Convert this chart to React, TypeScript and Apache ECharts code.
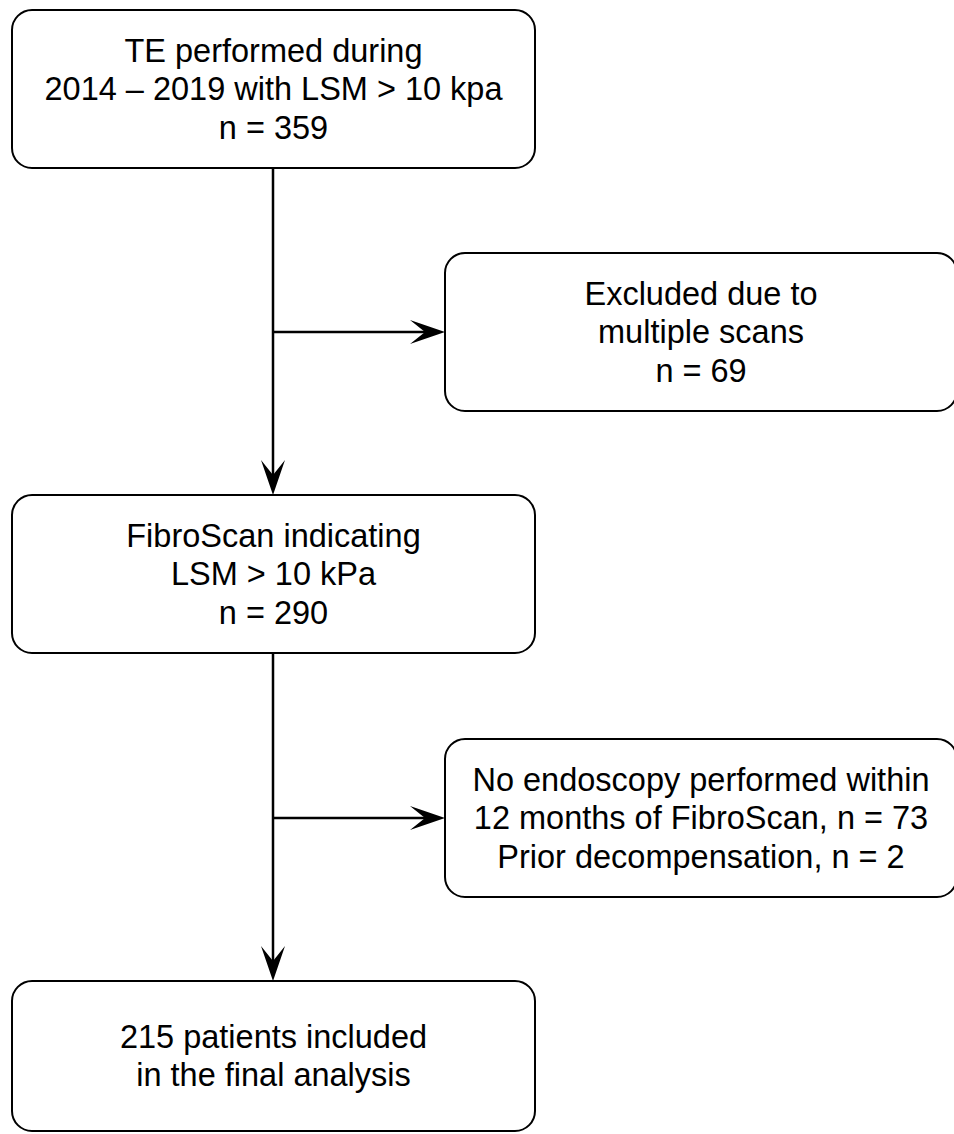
import { useEffect, useRef } from "react";
import * as echarts from "echarts";

// flowchart content
const mainBoxes = [
  ["TE performed during", "2014 – 2019 with LSM > 10 kpa", "n = 359"],
  ["FibroScan indicating", "LSM > 10 kPa", "n = 290"],
  ["215 patients included", "in the final analysis"],
];
const sideBoxes = [
  ["Excluded due to", "multiple scans", "n = 69"],
  ["No endoscopy performed within", "12 months of FibroScan, n = 73", "Prior decompensation, n = 2"],
];

const MAIN_TOP = [10, 495, 981];
const SIDE_TOP = [253, 739];
const BOX_H = 158;
const LINE_H = 38.5;
const STROKE = "#000";

export default function App() {
  const chartRef = useRef<HTMLDivElement>(null);

  useEffect(() => {
    if (!chartRef.current) return;
    const chart = echarts.init(chartRef.current, null, { renderer: "svg" });
    const els: any[] = [];

    const box = (x: number, y: number, w: number, h: number, lines: string[]) => {
      els.push({
        type: "rect",
        shape: { x, y, width: w, height: h, r: 20 },
        style: { fill: "#fff", stroke: STROKE, lineWidth: 2 },
      });
      const cx = x + w / 2;
      const cy = y + h / 2;
      lines.forEach((t, i) => {
        els.push({
          type: "text",
          x: cx,
          y: cy + (i - (lines.length - 1) / 2) * LINE_H,
          style: {
            text: t,
            fill: "#000",
            font: "32.5px 'Liberation Sans', Arial, sans-serif",
            align: "center",
            verticalAlign: "middle",
          },
        });
      });
    };

    const line = (x1: number, y1: number, x2: number, y2: number) =>
      els.push({
        type: "line",
        shape: { x1, y1, x2, y2 },
        style: { stroke: STROKE, lineWidth: 2.5 },
      });

    const arrowDown = (x: number, y: number) =>
      els.push({
        type: "polygon",
        shape: { points: [[x - 12, y - 35], [x, y - 20], [x + 12, y - 35], [x, y]] },
        style: { fill: STROKE },
      });
    const arrowRight = (x: number, y: number) =>
      els.push({
        type: "polygon",
        shape: { points: [[x - 35, y - 12], [x - 20, y], [x - 35, y + 12], [x, y]] },
        style: { fill: STROKE },
      });

    const mainX = 12, mainW = 523, midX = 273;
    const sideX = 445, sideW = 512;

    for (let i = 0; i < 2; i++) {
      const y1 = MAIN_TOP[i] + BOX_H;
      const y2 = MAIN_TOP[i + 1];
      const sy = SIDE_TOP[i] + BOX_H / 2;
      line(midX, y1, midX, y2 - 20);
      arrowDown(midX, y2);
      line(midX, sy, sideX - 20, sy);
      arrowRight(sideX, sy);
    }

    mainBoxes.forEach((b, i) => box(mainX, MAIN_TOP[i], mainW, i === 2 ? 150 : BOX_H, b));
    sideBoxes.forEach((b, i) => box(sideX, SIDE_TOP[i], sideW, BOX_H, b));

    chart.setOption({ animation: false, graphic: { elements: els } });
    return () => chart.dispose();
  }, []);

  return (
    <div
      ref={chartRef}
      style={{ position: "absolute", left: 0, top: 0, width: 954, height: 1134, background: "#fff" }}
    />
  );
}
